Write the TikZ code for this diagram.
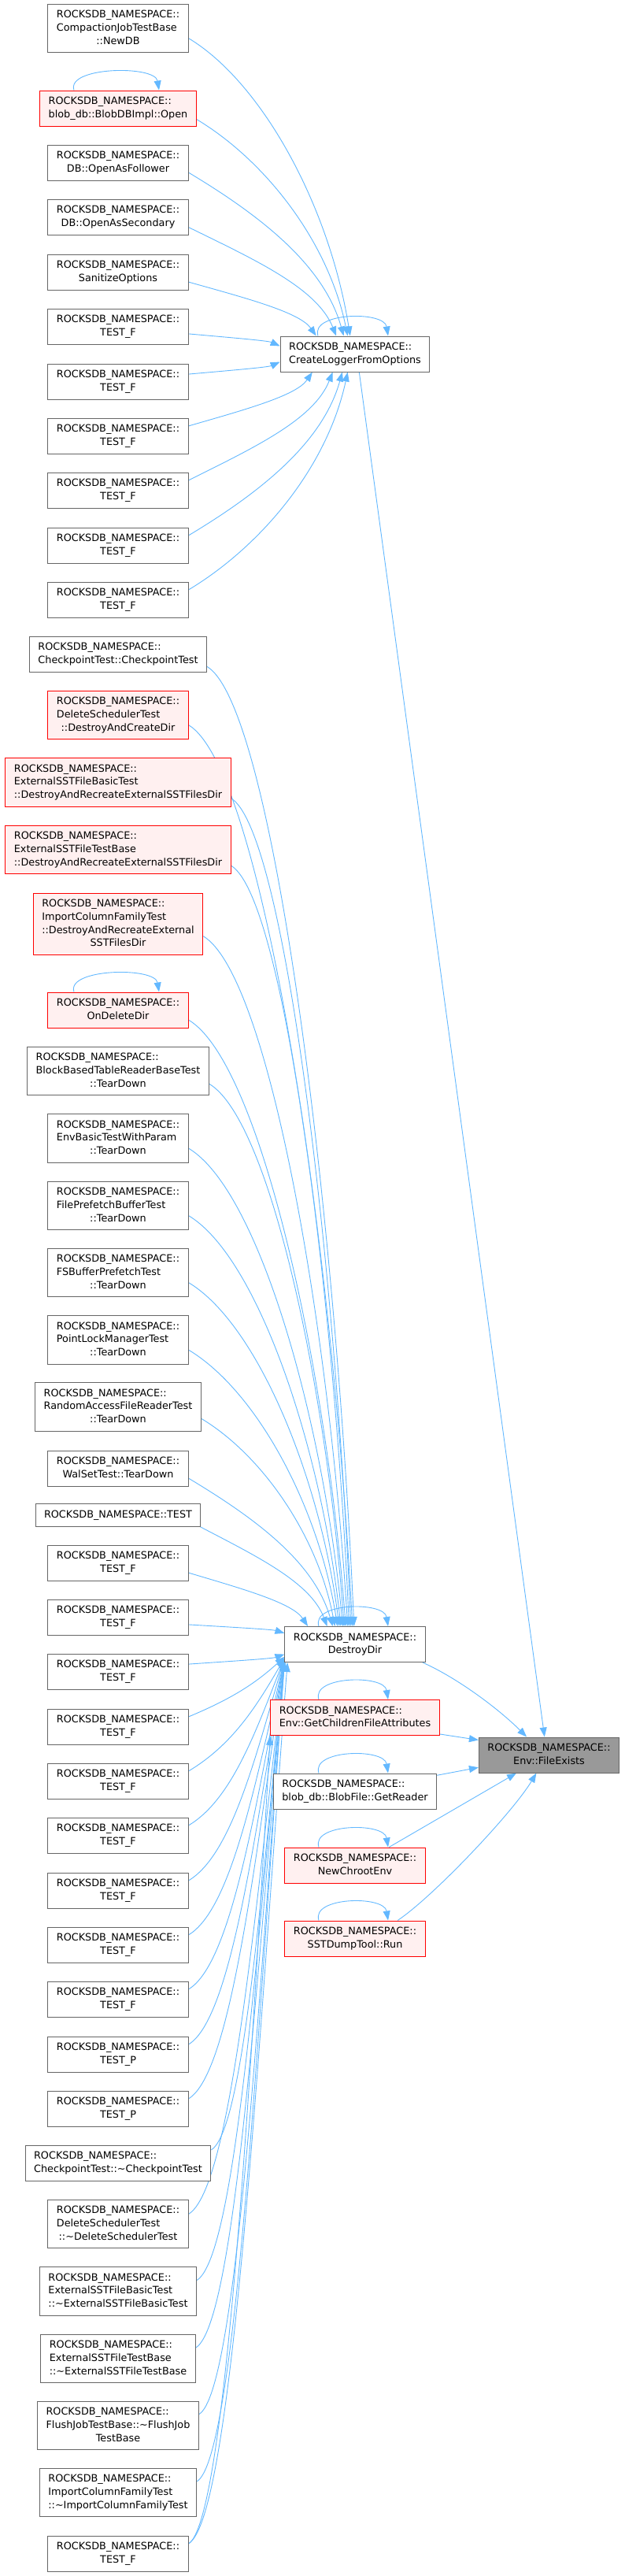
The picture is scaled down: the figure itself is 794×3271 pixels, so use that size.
\documentclass[tikz,border=0pt]{standalone}
\usepackage{fontspec}
\setmainfont{DejaVu Sans}
\usepackage{tikz}
\usetikzlibrary{arrows.meta,calc,backgrounds}
\definecolor{callblue}{HTML}{63B8FF}
\definecolor{boxline}{HTML}{666666}
\definecolor{hotfill}{HTML}{FFF0F0}
\definecolor{curfill}{HTML}{999999}

% doxygen-like labels: lines left, last line centred
\newcommand{\lbl}[2]{\begin{tabular}{@{}l@{}}#1\\\multicolumn{1}{@{}c@{}}{#2}\end{tabular}}
\newcommand{\lblone}[1]{\begin{tabular}{@{}c@{}}#1\end{tabular}}
\newcommand{\rns}{ROCKSDB\_NAMESPACE::}
% caller -> callee spline, optional arg = how far left the end bends in
\newcommand{\calls}[3][0.13]{%
  \draw[callarrow] let \p1=(#2), \p2=(#3) in
    (\p1) .. controls ({\x1+0.45*(\x2-\x1)},{\y1+min(0.3*abs(\y2-\y1),0.27*(\x2-\x1))*((\y2-\y1)/abs(\y2-\y1))})
    and ({\x2-#1*(\x2-\x1)},{\y2-0.44*(\y2-\y1)}) .. (\p2);}
% recursive call loop on top of a node
\newcommand{\selfcall}[3]{%
  \draw[callarrow] ([xshift=#2pt]#1.north) .. controls +(-10,-30) and +(-5,-32) .. ([xshift=#3pt]#1.north);}

\begin{document}
\begin{tikzpicture}[x=1pt, y=-1pt,
  fnbox/.style={draw=boxline, fill=white, line width=1pt, inner xsep=11pt, inner ysep=5.8pt,
    font=\fontsize{12.8}{16.7}\selectfont},
  fnred/.style={fnbox, draw=red, fill=hotfill},
  fncur/.style={fnbox, fill=curfill},
  callarrow/.style={draw=callblue, line width=0.9pt, -{Triangle[length=12pt,width=9pt]}}]
\useasboundingbox (0,0) rectangle (794,3271);

% callers, left column
\node[fnbox] (newdb) at (150,36) {\lbl{\rns\\CompactionJobTestBase}{::NewDB}};
\node[fnred] (blobopen) at (150,137.5) {\lbl{\rns}{blob\_db::BlobDBImpl::Open}};
\node[fnbox] (follower) at (150,206.5) {\lbl{\rns}{DB::OpenAsFollower}};
\node[fnbox] (secondary) at (150,276) {\lbl{\rns}{DB::OpenAsSecondary}};
\node[fnbox] (sanitize) at (150,345.5) {\lbl{\rns}{SanitizeOptions}};
\node[fnbox] (tf1) at (150,414.5) {\lbl{\rns}{TEST\_F}};
\node[fnbox] (tf2) at (150,484.5) {\lbl{\rns}{TEST\_F}};
\node[fnbox] (tf3) at (150,553.5) {\lbl{\rns}{TEST\_F}};
\node[fnbox] (tf4) at (150,622.5) {\lbl{\rns}{TEST\_F}};
\node[fnbox] (tf5) at (150,692.5) {\lbl{\rns}{TEST\_F}};
\node[fnbox] (tf6) at (150,761.5) {\lbl{\rns}{TEST\_F}};
\node[fnbox] (ckpt) at (150,830.5) {\lbl{\rns}{CheckpointTest::CheckpointTest}};
\node[fnred] (delsched) at (150,908) {\lbl{\rns\\DeleteSchedulerTest}{::DestroyAndCreateDir}};
\node[fnred] (extbasic) at (150,993.5) {\lbl{\rns\\ExternalSSTFileBasicTest}{::DestroyAndRecreateExternalSSTFilesDir}};
\node[fnred] (extbase) at (150,1079) {\lbl{\rns\\ExternalSSTFileTestBase}{::DestroyAndRecreateExternalSSTFilesDir}};
\node[fnred] (importcf) at (150,1173.5) {\lbl{\rns\\ImportColumnFamilyTest\\::DestroyAndRecreateExternal}{SSTFilesDir}};
\node[fnred] (ondelete) at (150,1282.5) {\lbl{\rns}{OnDeleteDir}};
\node[fnbox] (blockbased) at (150,1360) {\lbl{\rns\\BlockBasedTableReaderBaseTest}{::TearDown}};
\node[fnbox] (envbasic) at (150,1445.5) {\lbl{\rns\\EnvBasicTestWithParam}{::TearDown}};
\node[fnbox] (fileprefetch) at (150,1531) {\lbl{\rns\\FilePrefetchBufferTest}{::TearDown}};
\node[fnbox] (fsbuffer) at (150,1616) {\lbl{\rns\\FSBufferPrefetchTest}{::TearDown}};
\node[fnbox] (pointlock) at (150,1701.5) {\lbl{\rns\\PointLockManagerTest}{::TearDown}};
\node[fnbox] (randomaccess) at (150,1786.5) {\lbl{\rns\\RandomAccessFileReaderTest}{::TearDown}};
\node[fnbox] (walset) at (150,1864.5) {\lbl{\rns}{WalSetTest::TearDown}};
\node[fnbox] (test) at (150,1924) {\lblone{\rns TEST}};
\node[fnbox] (tf7) at (150,1984.5) {\lbl{\rns}{TEST\_F}};
\node[fnbox] (tf8) at (150,2053.5) {\lbl{\rns}{TEST\_F}};
\node[fnbox] (tf9) at (150,2122.5) {\lbl{\rns}{TEST\_F}};
\node[fnbox] (tf10) at (150,2192.5) {\lbl{\rns}{TEST\_F}};
\node[fnbox] (tf11) at (150,2261.5) {\lbl{\rns}{TEST\_F}};
\node[fnbox] (tf12) at (150,2330.5) {\lbl{\rns}{TEST\_F}};
\node[fnbox] (tf13) at (150,2400.5) {\lbl{\rns}{TEST\_F}};
\node[fnbox] (tf14) at (150,2469.5) {\lbl{\rns}{TEST\_F}};
\node[fnbox] (tf15) at (150,2538.5) {\lbl{\rns}{TEST\_F}};
\node[fnbox] (tp1) at (150,2608.5) {\lbl{\rns}{TEST\_P}};
\node[fnbox] (tp2) at (150,2677.5) {\lbl{\rns}{TEST\_P}};
\node[fnbox] (dckpt) at (150,2746.5) {\lbl{\rns}{CheckpointTest::\textasciitilde CheckpointTest}};
\node[fnbox] (ddelsched) at (150,2824) {\lbl{\rns\\DeleteSchedulerTest}{::\textasciitilde DeleteSchedulerTest}};
\node[fnbox] (dextbasic) at (150,2909.5) {\lbl{\rns\\ExternalSSTFileBasicTest}{::\textasciitilde ExternalSSTFileBasicTest}};
\node[fnbox] (dextbase) at (150,2995) {\lbl{\rns\\ExternalSSTFileTestBase}{::\textasciitilde ExternalSSTFileTestBase}};
\node[fnbox] (dflush) at (150,3080) {\lbl{\rns\\FlushJobTestBase::\textasciitilde FlushJob}{TestBase}};
\node[fnbox] (dimportcf) at (150,3165) {\lbl{\rns\\ImportColumnFamilyTest}{::\textasciitilde ImportColumnFamilyTest}};
\node[fnbox] (tf16) at (150,3242.5) {\lbl{\rns}{TEST\_F}};

% middle column
\node[fnbox] (cl) at (451,449.5) {\lbl{\rns}{CreateLoggerFromOptions}};
\node[fnbox] (dd) at (451,2088) {\lbl{\rns}{DestroyDir}};
\node[fnred] (gc) at (451,2181) {\lbl{\rns}{Env::GetChildrenFileAttributes}};
\node[fnbox] (gr) at (451,2274.5) {\lbl{\rns}{blob\_db::BlobFile::GetReader}};
\node[fnred] (nc) at (451,2368.5) {\lbl{\rns}{NewChrootEnv}};
\node[fnred] (run) at (451,2461.5) {\lbl{\rns}{SSTDumpTool::Run}};

% the function itself
\node[fncur] (fe) at (697.5,2228.5) {\lbl{\rns}{Env::FileExists}};

\begin{scope}[on background layer]
% -> CreateLoggerFromOptions
\calls{newdb.-8}{cl.105}
\calls{blobopen.-8}{cl.112}
\calls{follower.-8}{cl.122}
\calls{secondary.-8}{cl.136}
\calls{sanitize.-8}{cl.155}
\calls{tf1.-6}{cl.174}
\calls{tf2.6}{cl.-174}
\calls{tf3.8}{cl.-157}
\calls{tf4.8}{cl.-141}
\calls{tf5.8}{cl.-125}
\calls{tf6.8}{cl.-112}

% -> DestroyDir, from above
\calls{ckpt.-8}{dd.93}
\calls{delsched.-8}{dd.98}
\calls{extbasic.-8}{dd.103}
\calls{extbase.-8}{dd.108}
\calls{importcf.-8}{dd.112}
\calls{ondelete.-8}{dd.117}
\calls{blockbased.-8}{dd.121}
\calls{envbasic.-8}{dd.124}
\calls{fileprefetch.-8}{dd.128}
\calls{fsbuffer.-8}{dd.131}
\calls{pointlock.-8}{dd.134}
\calls{randomaccess.-8}{dd.138}
\calls{walset.-8}{dd.141}
\calls{test.-8}{dd.147}
\calls{tf7.-8}{dd.159}
\calls{tf8.-6}{dd.171}
\calls{tf9.6}{dd.-172}
% -> DestroyDir, from below
\calls[0.3]{tf10.8}{dd.-170}
\calls[0.3]{tf11.8}{dd.-169.7}
\calls[0.3]{tf12.8}{dd.-169.4}
\calls[0.3]{tf13.8}{dd.-169.1}
\calls[0.3]{tf14.8}{dd.-168.8}
\calls[0.3]{tf15.8}{dd.-168.5}
\calls[0.3]{tp1.8}{dd.-168.2}
\calls[0.3]{tp2.8}{dd.-167.9}
\calls[0.3]{dckpt.8}{dd.-167.6}
\calls[0.3]{ddelsched.8}{dd.-167.3}
\calls[0.3]{dextbasic.8}{dd.-167}
\calls[0.3]{dextbase.8}{dd.-166.7}
\calls[0.3]{dflush.8}{dd.-166.4}
\calls[0.3]{dimportcf.8}{dd.-166.1}
\calls[0.3]{tf16.8}{dd.-165.8}
\calls[0.25]{tf16.8}{gc.-168}

% recursive calls
\selfcall{blobopen}{-56}{52}
\selfcall{ondelete}{-56}{52}
\selfcall{cl}{-47}{42}
\selfcall{dd}{-46}{42}
\selfcall{gc}{-46}{42}
\selfcall{gr}{-46}{42}
\selfcall{nc}{-46}{42}
\selfcall{run}{-46}{42}

% -> Env::FileExists
\draw[callarrow] (cl.-77) -- (fe.104);
\draw[callarrow] (dd.-15) .. controls +(45,20) and +(-35,-35) .. (fe.141);
\draw[callarrow] (gc.-11) -- (fe.168);
\draw[callarrow] (gr.11) -- (fe.-170);
\draw[callarrow] (nc.28) -- (fe.-151);
\draw[callarrow] (run.23) .. controls +(45,-30) and +(-30,50) .. (fe.-125);
\end{scope}
\end{tikzpicture}
\end{document}
